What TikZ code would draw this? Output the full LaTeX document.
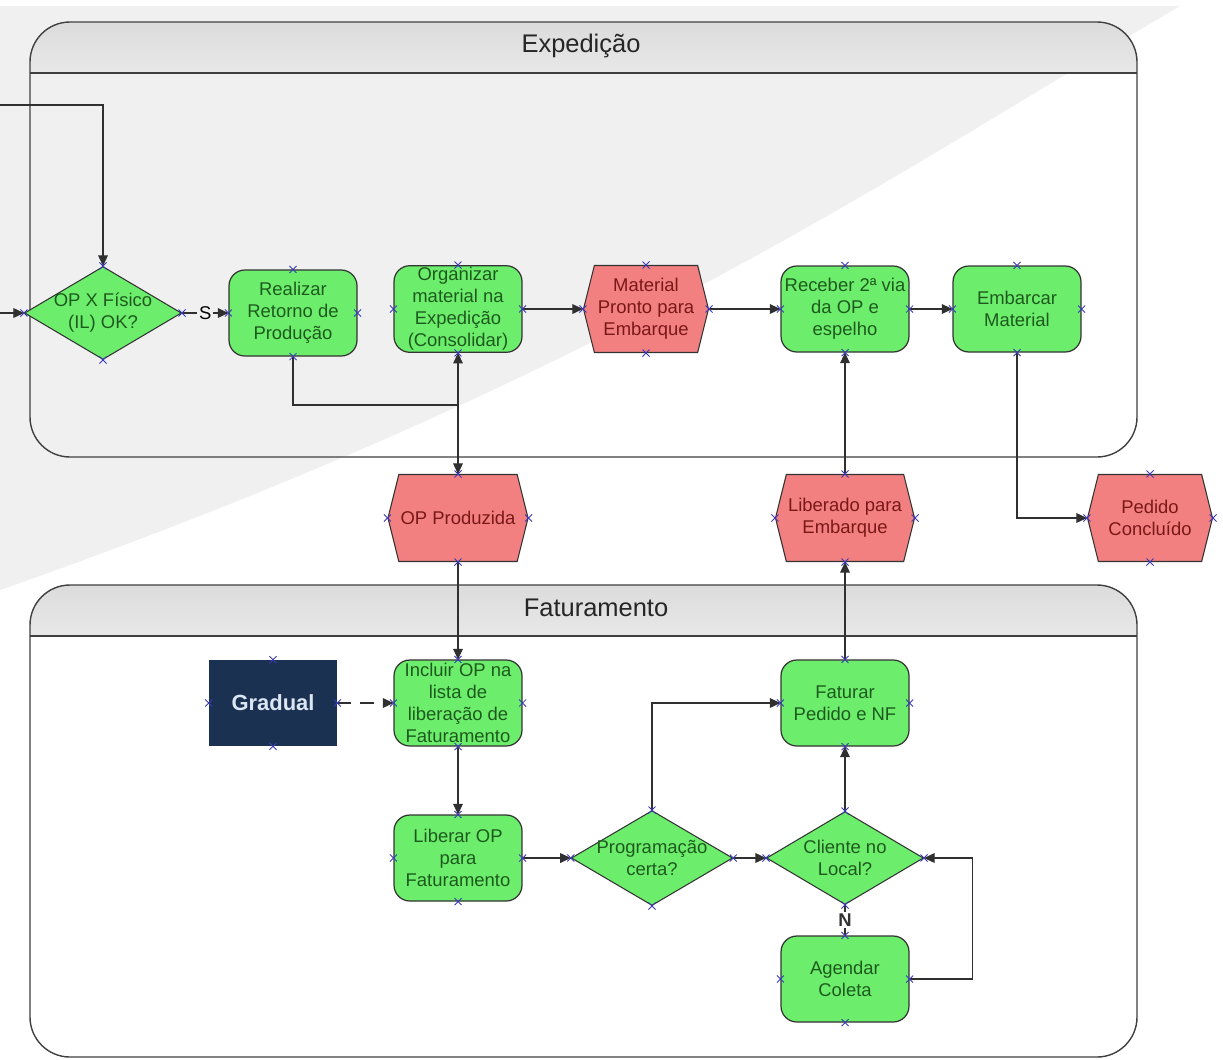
\documentclass[tikz,border=0pt]{standalone}
\usepackage{fontspec}
\setmainfont{Liberation Sans}
\usetikzlibrary{arrows.meta, positioning, shapes.geometric, shapes.symbols}

\definecolor{fungreen}{HTML}{6CEE6C}
\definecolor{funtext}{HTML}{1E5A1E}
\definecolor{evtred}{HTML}{F28080}
\definecolor{evttext}{HTML}{7A1818}
\definecolor{navybox}{HTML}{1B3152}
\definecolor{gradtext}{HTML}{DCE6F2}
\definecolor{markblue}{HTML}{3A3AB8}
\definecolor{linegray}{HTML}{303030}
\definecolor{swoosh}{HTML}{F0F0F0}

\tikzset{
  func/.style={rectangle, rounded corners=9pt, draw=black!80, line width=0.7pt, fill=fungreen, text=funtext,
    minimum width=2.56cm, minimum height=1.72cm, align=center, inner sep=1pt, font=\fontsize{10.5}{12.5}\selectfont},
  event/.style={signal, signal to=west and east, signal pointer angle=152, draw=black!80, line width=0.6pt,
    fill=evtred, text=evttext, minimum width=2.5cm, minimum height=1.74cm, align=center, inner sep=1pt,
    font=\fontsize{10.5}{12.5}\selectfont},
  decision/.style={diamond, aspect=1.7, draw=black!80, line width=0.6pt, fill=fungreen, text=funtext,
    minimum width=3.14cm, minimum height=1.86cm, inner sep=-1pt, align=center, font=\fontsize{10.5}{12.5}\selectfont},
  flow/.style={draw=linegray, line width=0.6pt, -{Triangle[length=6pt,width=5.5pt]}},
  xmark/.style={draw=markblue, line width=0.5pt},
  pool/.style={draw=black!75, line width=0.8pt, rounded corners=0.8cm},
  poolhead/.style={top color=gray!28, middle color=white, bottom color=gray!18},
  pooltitle/.style={font=\fontsize{14.5}{16}\selectfont, text=black!85},
}

% little blue crosses on the four connection points
\newcommand{\xmarks}[1]{%
  \foreach \a in {north,south,east,west}{
    \draw[xmark] (#1.\a) +(-3.5,-3.5) -- +(3.5,3.5) +(-3.5,3.5) -- +(3.5,-3.5);
  }}

\begin{document}
\begin{tikzpicture}[x=0.02cm, y=0.02cm]
  \useasboundingbox (0,0) rectangle (1223,-1059);

  % Background
  \fill[white] (0,0) rectangle (1223,-1059);
  \fill[swoosh] (0,-6) -- (1180,-6) .. controls (900,-170) and (600,-380) .. (0,-590) -- cycle;

  % Pools
  \shade[poolhead]
    (30,-73) [rounded corners=0.8cm] -- (30,-22) -- (1137,-22) [sharp corners] -- (1137,-73) -- cycle;
  \draw[pool] (30,-22) rectangle (1137,-457);
  \draw[black!75, line width=0.8pt] (30,-73) -- (1137,-73);
  \node[pooltitle] (expTitle) at (581,-46) {Expedição};

  \shade[poolhead]
    (30,-636) [rounded corners=0.8cm] -- (30,-585) -- (1137,-585) [sharp corners] -- (1137,-636) -- cycle;
  \draw[pool] (30,-585) rectangle (1137,-1057);
  \draw[black!75, line width=0.8pt] (30,-636) -- (1137,-636);
  \node[pooltitle] (fatTitle) at (596,-608) {Faturamento};

  % Expedicao row
  \node[decision] (chk) at (103,-313) {OP X Físico\\(IL) OK?};
  \node[func] (ret) at (293,-313) {Realizar\\Retorno de\\Produção};
  \node[func] (org) at (458,-309) {Organizar\\material na\\Expedição\\(Consolidar)};
  \node[event] (pronto) at (646,-309) {Material\\Pronto para\\Embarque};
  \node[func] (rec) at (845,-309) {Receber 2ª via\\da OP e\\espelho};
  \node[func] (emb) at (1017,-309) {Embarcar\\Material};

  % Events between the pools
  \node[event] (opp) at (458,-518) {OP Produzida};
  \node[event] (lib) at (845,-518) {Liberado para\\Embarque};
  \node[event] (ped) at (1150,-518) {Pedido\\Concluído};

  % Faturamento
  \node[rectangle, fill=navybox, text=gradtext, minimum width=2.56cm, minimum height=1.72cm,
    font=\fontsize{12.5}{14}\selectfont\bfseries] (grad) at (273,-703) {Gradual};
  \node[func] (inc) at (458,-703) {Incluir OP na\\lista de\\liberação de\\Faturamento};
  \node[func] (fat) at (845,-703) {Faturar\\Pedido e NF};
  \node[func] (liber) at (458,-858) {Liberar OP\\para\\Faturamento};
  \node[decision] (prog) at (652,-858) {Programação\\certa?};
  \node[decision] (cli) at (845,-858) {Cliente no\\Local?};
  \node[func] (age) at (845,-979) {Agendar\\Coleta};

  \coordinate (inL) at (0,-313);
  \coordinate (topL) at (0,-105);
  \coordinate (join) at (458,-405);

  % Connectors
  \draw[flow] (inL) -- (chk.west);
  \draw[flow] (topL) -| (chk.north);
  \draw[flow] (chk.east) -- node[fill=swoosh, inner sep=1pt, font=\fontsize{10.5}{12}\selectfont] (sLbl) {S} (ret.west);
  \draw[flow] (ret.south) |- (join) -- (opp.north);
  \draw[flow] (opp.north) -- (org.south);
  \draw[flow] (org.east) -- (pronto.west);
  \draw[flow] (pronto.east) -- (rec.west);
  \draw[flow] (rec.east) -- (emb.west);
  \draw[flow] (lib.north) -- (rec.south);
  \draw[flow] (emb.south) |- (ped.west);
  \draw[flow] (opp.south) -- (inc.north);
  \draw[flow, dash pattern=on 8pt off 5pt] (grad.east) -- (inc.west);
  \draw[flow] (inc.south) -- (liber.north);
  \draw[flow] (liber.east) -- (prog.west);
  \draw[flow] (prog.east) -- (cli.west);
  \draw[flow] (prog.north) |- (fat.west);
  \draw[flow] (cli.north) -- (fat.south);
  \draw[flow] (fat.north) -- (lib.south);
  \draw[draw=linegray, line width=0.6pt] (cli.south) -- node[fill=white, inner sep=1pt, text=black!80, font=\fontsize{10.5}{12}\selectfont\bfseries] (nLbl) {N} (age.north);
  \draw[flow] (age.east) -- ++(63,0) |- (cli.east);

  % Connection points
  \foreach \n in {chk,ret,org,pronto,rec,emb,opp,lib,ped,grad,inc,fat,liber,prog,cli,age}{
    \xmarks{\n}
  }
\end{tikzpicture}
\end{document}
